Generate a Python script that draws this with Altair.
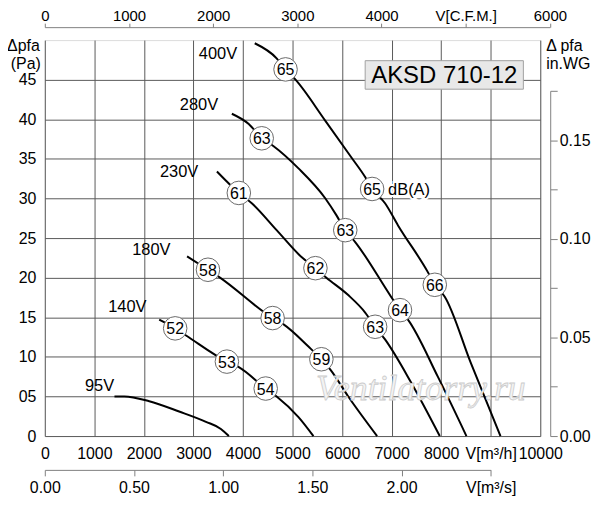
import altair as alt
import pandas as pd

# ---------------- data ----------------
v400_q = [4237, 4679, 4859, 5060, 5663, 6185, 6466, 6606, 6867, 7129, 7731, 7871, 8072, 8594, 9197]
v400_p = [49.6, 47.7, 46.3, 45.0, 39.8, 35.2, 32.7, 31.2, 29.4, 26.6, 20.7, 19.1, 17.6, 9.3, 0]
v280_q = [3775, 4116, 4378, 4618, 5120, 5663, 5884, 6064, 6265, 6988, 7169, 7329, 7932, 8510]
v280_p = [40.7, 39.4, 37.6, 36.6, 33.8, 30.0, 27.9, 26.0, 24.5, 17.6, 15.9, 14.7, 7.5, 0]
v230_q = [3474, 3916, 4177, 4679, 5181, 5462, 5683, 6124, 6466, 6667, 6867, 7390, 7972]
v230_p = [33.4, 30.7, 29.4, 26.0, 22.6, 21.2, 20.0, 17.8, 15.6, 13.8, 12.2, 6.8, 0]
v180_q = [2871, 3293, 3514, 4598, 4819, 5321, 5582, 5763, 6124, 6707]
v180_p = [22.7, 21.0, 20.1, 14.9, 14.1, 11.3, 9.7, 8.4, 5.0, 0]
v140_q = [2309, 2631, 2851, 3675, 3916, 4458, 4679, 5120, 5422]
v140_p = [14.7, 13.6, 12.7, 9.4, 8.7, 6.0, 5.0, 2.4, 0]
v95_q = [1406, 1606, 2108, 2711, 3253, 3554, 3715]
v95_p = [5.0, 5.0, 4.4, 3.1, 1.8, 0.9, 0]

curve_names = ["400V", "280V", "230V", "180V", "140V", "95V"]
curve_q = [v400_q, v280_q, v230_q, v180_q, v140_q, v95_q]
curve_p = [v400_p, v280_p, v230_p, v180_p, v140_p, v95_p]

# sound level markers (dB(A))
db_q = [4859, 6606, 7871, 4378, 6064, 7169, 3916, 5462, 6667, 3293, 4598, 5582, 2631, 3675, 4458]
db_p = [46.3, 31.2, 19.1, 37.6, 26.0, 15.9, 30.7, 21.2, 13.8, 21.0, 14.9, 9.7, 13.6, 9.4, 6.0]
db_txt = ["65", "65", "66", "63", "63", "64", "61", "62", "63", "58", "58", "59", "52", "53", "54"]

# voltage labels
volt_q = [3494, 3112, 2711, 2149, 1667, 1104]
volt_p = [48.3, 41.8, 33.3, 23.5, 16.3, 6.3]

# ticks
q_ticks = list(range(0, 10001, 1000))
p_ticks = list(range(0, 46, 5))
cfm_ticks = list(range(0, 6001, 1000))
m3s_ticks = [0, 0.5, 1.0, 1.5, 2.0, 2.5]
inwg_ticks = [0, 0.025, 0.05, 0.075, 0.1, 0.125, 0.15, 0.175]

# annotations
title_text = "AKSD 710-12"
title_box_q = [6466, 9659]
title_box_p = [43.8, 47.4]
title_pos = [8062, 45.6]
dba_pos = [6928, 31.1]
watermark_pos = [7590, 5.9]

# ---------------- layout ----------------
W, H = 498, 398
Q_MAX, P_MAX = 10000, 50
CFM_TO_M3H = 1.69901
PA_PER_INWG = 249.089
FONT = "Liberation Sans"
LBL = dict(labelFont=FONT, labelFontSize=16, labelColor="black")

rows = []
for n, qs, ps in zip(curve_names, curve_q, curve_p):
    for i, (q, p) in enumerate(zip(qs, ps)):
        rows.append({"curve": n, "q": q, "p": p, "i": i})
curves_df = pd.DataFrame(rows)
db_df = pd.DataFrame({"q": db_q, "p": db_p, "t": db_txt})
volt_df = pd.DataFrame({"q": volt_q, "p": volt_p, "t": curve_names})

xs = alt.Scale(domain=[0, Q_MAX], nice=False, zero=False)
ys = alt.Scale(domain=[0, P_MAX], nice=False, zero=False)

main_x_axis = alt.Axis(
    orient="bottom", values=q_ticks, format="d",
    labelExpr="datum.value == 9000 ? 'V[m³/h]' : datum.label",
    ticks=False, tickSize=0, domain=False, grid=True, gridColor="#5a5a5a", gridWidth=1,
    labelPadding=10, labelFlush=False, labelOverlap=False, title=None, **LBL,
)
main_y_axis = alt.Axis(
    orient="left", values=p_ticks,
    labelExpr="datum.value == 5 ? '05' : datum.label",
    ticks=False, tickSize=0, domain=False, grid=True, gridColor="#5a5a5a", gridWidth=1,
    labelPadding=9, labelOverlap=False, title=None, **LBL,
)

curves = alt.Chart(curves_df).mark_line(color="black", strokeWidth=2, interpolate="monotone").encode(
    x=alt.X("q:Q", scale=xs, axis=main_x_axis),
    y=alt.Y("p:Q", scale=ys, axis=main_y_axis),
    detail="curve:N",
    order="i:Q",
)

box_df = pd.DataFrame({"q1": [title_box_q[0]], "q2": [title_box_q[1]],
                       "p1": [title_box_p[0]], "p2": [title_box_p[1]]})
box = alt.Chart(box_df).mark_rect(fill="#e8e8e8", stroke="#a0a0a0", strokeWidth=1).encode(
    x=alt.X("q1:Q", scale=xs, axis=None), x2="q2:Q",
    y=alt.Y("p1:Q", scale=ys, axis=None), y2="p2:Q",
)
title_df = pd.DataFrame({"q": [title_pos[0]], "p": [title_pos[1]], "t": [title_text]})
title = alt.Chart(title_df).mark_text(font=FONT, fontSize=24, color="black", baseline="middle", dy=1).encode(
    x=alt.X("q:Q", scale=xs, axis=None), y=alt.Y("p:Q", scale=ys, axis=None), text="t:N"
)

wm_df = pd.DataFrame({"q": [watermark_pos[0]], "p": [watermark_pos[1]], "t": ["Ventilatorry.ru"]})
watermark = alt.Chart(wm_df).mark_text(
    font="Liberation Serif", fontStyle="italic", fontSize=36, fill="#f3f3f3",
    stroke="#cccccc", strokeWidth=0.8, baseline="middle"
).encode(x=alt.X("q:Q", scale=xs, axis=None), y=alt.Y("p:Q", scale=ys, axis=None), text="t:N")

circles = alt.Chart(db_df).mark_circle(size=560, fill="white", stroke="#6a6a6a", strokeWidth=1, opacity=1).encode(
    x=alt.X("q:Q", scale=xs, axis=None), y=alt.Y("p:Q", scale=ys, axis=None)
)
circle_text = alt.Chart(db_df).mark_text(font=FONT, fontSize=16, color="black", baseline="middle", dy=1).encode(
    x=alt.X("q:Q", scale=xs, axis=None), y=alt.Y("p:Q", scale=ys, axis=None), text="t:N"
)
volt_text = alt.Chart(volt_df).mark_text(font=FONT, fontSize=16.5, color="black", baseline="middle").encode(
    x=alt.X("q:Q", scale=xs, axis=None), y=alt.Y("p:Q", scale=ys, axis=None), text="t:N"
)
dba_df = pd.DataFrame({"q": [dba_pos[0]], "p": [dba_pos[1]], "t": ["dB(A)"]})
dba_bg = alt.Chart(dba_df).mark_text(font=FONT, fontSize=16.5, color="white", stroke="white",
                                     strokeWidth=4, align="left", baseline="middle").encode(
    x=alt.X("q:Q", scale=xs, axis=None), y=alt.Y("p:Q", scale=ys, axis=None), text="t:N"
)
dba = alt.Chart(dba_df).mark_text(font=FONT, fontSize=16.5, color="black", align="left", baseline="middle").encode(
    x=alt.X("q:Q", scale=xs, axis=None), y=alt.Y("p:Q", scale=ys, axis=None), text="t:N"
)

# secondary axes
cfm_df = pd.DataFrame({"cfm": cfm_ticks})
cfm_layer = alt.Chart(cfm_df).mark_point(opacity=0).encode(
    x=alt.X("cfm:Q", scale=alt.Scale(domain=[0, 6000], range=[0, 6000 * CFM_TO_M3H * W / Q_MAX], nice=False, zero=False),
            axis=alt.Axis(orient="top", offset=13, values=cfm_ticks, format="d",
                          labelExpr="datum.value == 5000 ? 'V[C.F.M.]' : datum.label",
                          tickSize=4, labelPadding=3, labelBaseline="alphabetic",
                          domainColor="#808080", tickColor="#808080",
                          grid=False, labelFlush=False, labelOverlap=False, title=None,
                          labelFont=FONT, labelFontSize=15, labelColor="black"))
)
m3s_df = pd.DataFrame({"m3s": m3s_ticks})
m3s_layer = alt.Chart(m3s_df).mark_point(opacity=0).encode(
    x=alt.X("m3s:Q", scale=alt.Scale(domain=[0, 2.5], range=[0, 2.5 * 3600 * W / Q_MAX], nice=False, zero=False),
            axis=alt.Axis(orient="bottom", offset=34, values=m3s_ticks, format=".2f",
                          labelExpr="datum.value == 2.5 ? 'V[m³/s]' : datum.label",
                          tickSize=6, labelPadding=4, domainColor="#808080", tickColor="#808080",
                          grid=False, labelFlush=False, labelOverlap=False, title=None, **LBL))
)
inwg_df = pd.DataFrame({"inwg": inwg_ticks})
inwg_layer = alt.Chart(inwg_df).mark_point(opacity=0).encode(
    y=alt.Y("inwg:Q", scale=alt.Scale(domain=[0, 0.175], range=[H, H - 0.175 * PA_PER_INWG * H / P_MAX], nice=False, zero=False),
            axis=alt.Axis(orient="right", offset=10, values=inwg_ticks, format=".2f",
                          labelExpr="indexof(['0.00','0.05','0.10','0.15'], datum.label) >= 0 ? datum.label : ''",
                          tickSize=7, labelPadding=2, domainColor="#808080", tickColor="#808080",
                          grid=False, labelOverlap=False, title=None, **LBL))
)

# axis titles
def label(txt, x, y, align):
    return alt.Chart(pd.DataFrame({"t": [txt]})).mark_text(
        font=FONT, fontSize=16, color="black", align=align, baseline="middle"
    ).encode(x=alt.value(x), y=alt.value(y), text="t:N")

titles = [
    label("Δpfa", -5, 6, "right"),
    label("(Pa)", -4, 24, "right"),
    label("Δ pfa", 504, 6, "left"),
    label("in.WG", 504, 24, "left"),
]

chart = alt.layer(
    curves, watermark, box, title, dba_bg, dba, circles, circle_text, volt_text,
    cfm_layer, m3s_layer, inwg_layer, *titles
).resolve_scale(x="independent", y="independent").properties(
    width=W, height=H,
    padding={"left": 37, "top": 31, "right": 52, "bottom": 60},
    autosize=alt.AutoSizeParams(type="none"),
).configure_view(
    stroke="#111111", strokeWidth=2
).configure(background="white")

chart.save("out.html", embed_options={"renderer": "svg", "actions": False})
